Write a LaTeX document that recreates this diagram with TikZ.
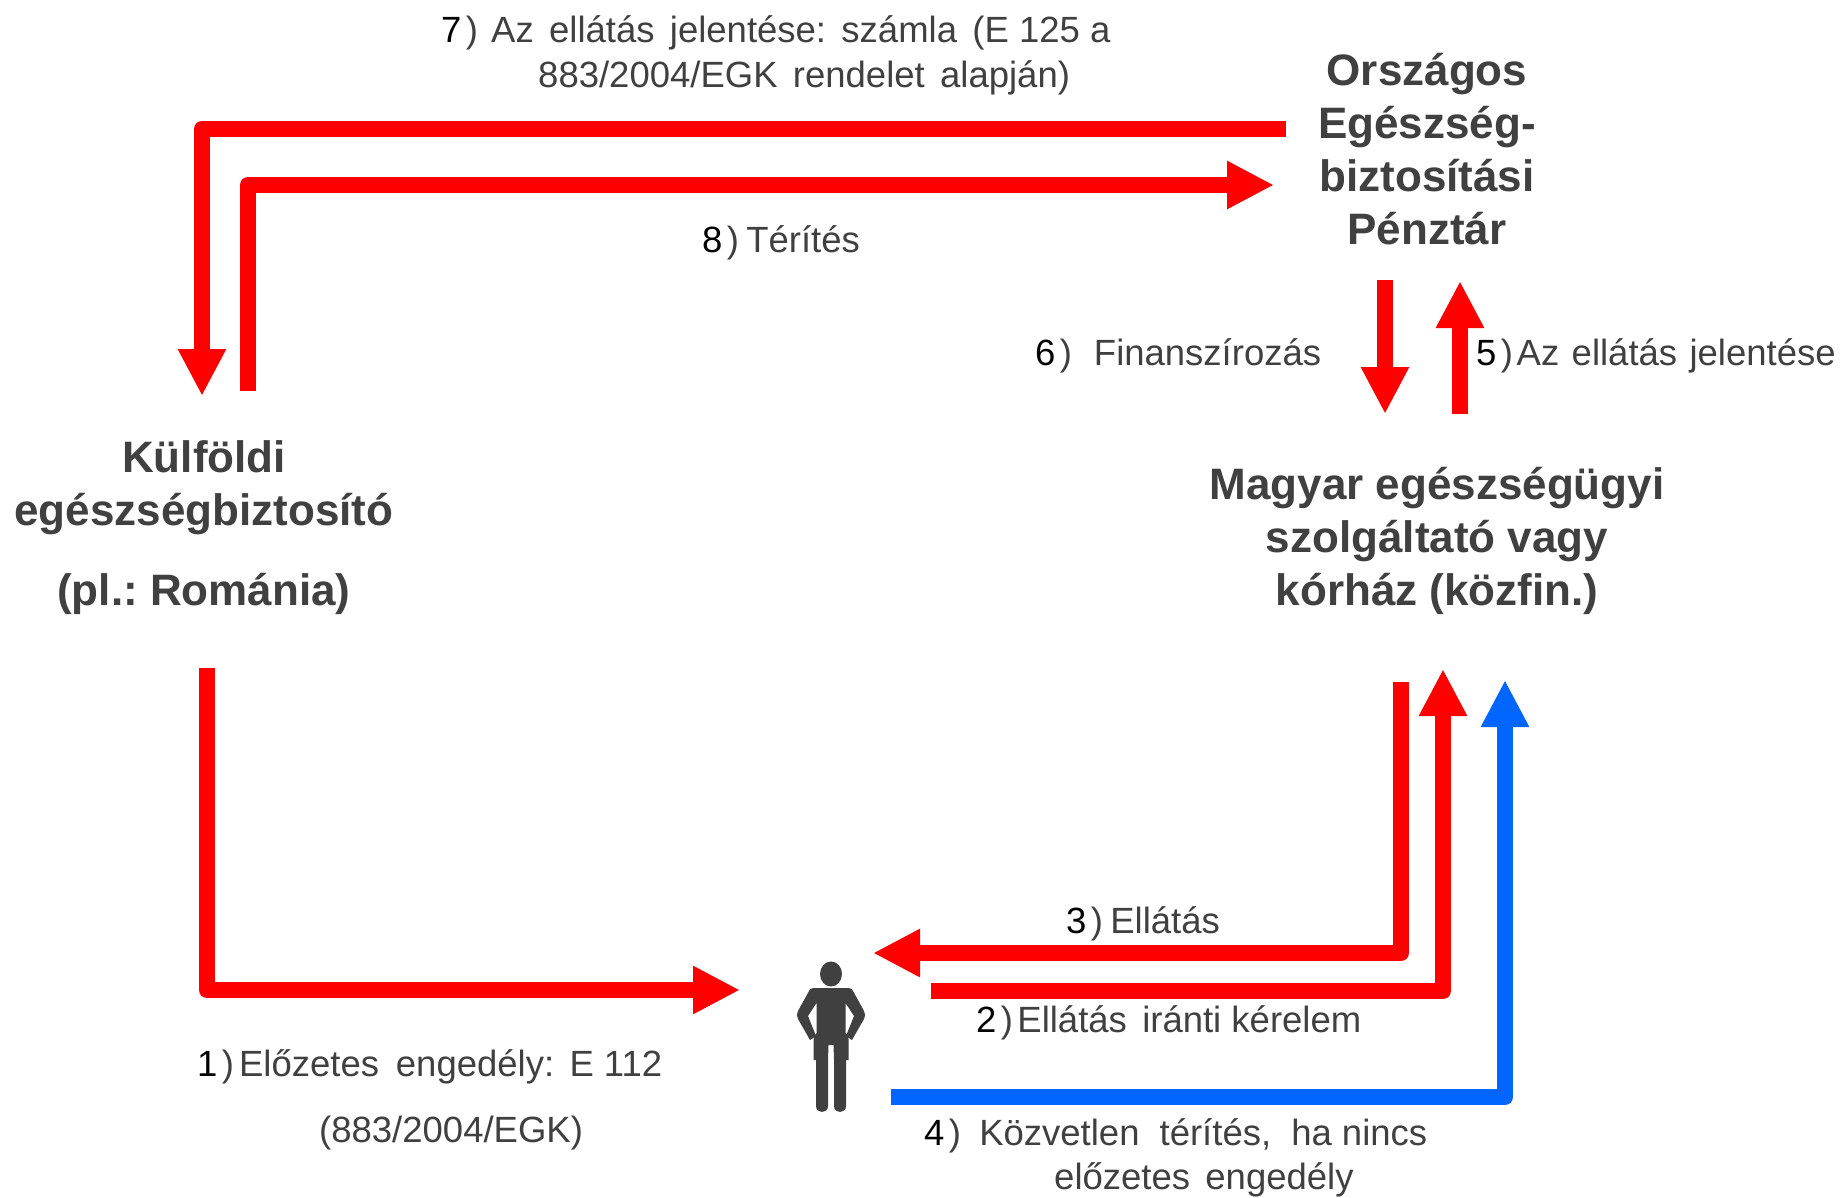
\documentclass[tikz,border=0pt]{standalone}
\usepackage{fontspec}
\setmainfont{Liberation Sans}
\usetikzlibrary{arrows.meta}
\definecolor{txt}{HTML}{404040}
\definecolor{flowred}{HTML}{FF0000}
\definecolor{flowblue}{HTML}{0066FF}
\newcommand{\wg}{\hspace{0.42em}}
\newcommand{\nm}[2]{{\color{black}#1}\hspace{0.12em}{\color{txt})}\hspace{#2}}
\tikzset{
  title/.style={font=\frenchspacing\bfseries\fontsize{44}{53}\selectfont,text=txt,align=center,anchor=center,inner sep=0pt},
  lab/.style={font=\fontsize{36.5}{45}\selectfont,text=txt,anchor=west,inner sep=0pt},
  flow/.style={draw=flowred,line width=16pt,line join=round,
    -{Triangle[length=47pt,width=45pt]}},
  bflow/.style={flow,draw=flowblue},
  figure/.style={fill=txt,draw=none}
}
\begin{document}
\begin{tikzpicture}[x=1pt,y=-1pt]
\useasboundingbox[fill=white] (0,0) rectangle (1841,1197);
% institutions
\node[title] (oep) at (1427,149) {Országos\\Egészség-\\biztosítási\\Pénztár};
\node[title] (mag) at (1437,541) {Magyar egészségügyi\\szolgáltató vagy\\kórház (közfin.)};
\node[title] (kulf) at (204,488) {Külföldi\\egészségbiztosító};
\node[title] (rom) at (204,594) {(pl.: Románia)};
% person
\coordinate (person) at (831,1045);
\begin{scope}[shift={(person)}]
  \fill[figure] (0,-71) ellipse (11 and 12.5);
  \fill[figure] (-17,-57) -- (17,-57) .. controls (20,-57) and (21,-56) .. (22,-54) -- (33,-34)
    .. controls (34.5,-31) and (34.5,-29) .. (33,-26) -- (21,-5) -- (15,-9) -- (23,-29) -- (14.5,-42)
    -- (14.5,-12) -- (17.5,-6) -- (17.5,15) -- (15,15) -- (15,61)
    .. controls (15,69) and (3,69) .. (3,61) -- (3,15) -- (2.5,0) -- (-2.5,0) -- (-3,15)
    -- (-3,61) .. controls (-3,69) and (-15,69) .. (-15,61) -- (-15,15) -- (-17.5,15) -- (-17.5,-6)
    -- (-14.5,-12) -- (-14.5,-42) -- (-23,-29) -- (-15,-9) -- (-21,-5) -- (-33,-26)
    .. controls (-34.5,-29) and (-34.5,-31) .. (-33,-34) -- (-22,-54)
    .. controls (-21,-56) and (-20,-57) .. (-17,-57) -- cycle;
\end{scope}
% connector anchor points
\coordinate (a7s) at (1286,129); \coordinate (a7c) at (202,129); \coordinate (a7e) at (202,396);
\coordinate (a8s) at (248,391); \coordinate (a8c) at (248,185); \coordinate (a8e) at (1274,185);
\coordinate (a6s) at (1385,280); \coordinate (a6e) at (1385,414);
\coordinate (a5s) at (1460,414); \coordinate (a5e) at (1460,281);
\coordinate (a1s) at (207,668); \coordinate (a1c) at (207,990); \coordinate (a1e) at (740,990);
\coordinate (a3s) at (1401,682); \coordinate (a3c) at (1401,953); \coordinate (a3e) at (873,953);
\coordinate (a2s) at (931,991); \coordinate (a2c) at (1443,991); \coordinate (a2e) at (1443,669);
\coordinate (a4s) at (891,1097); \coordinate (a4c) at (1505,1097); \coordinate (a4e) at (1505,680);
% connectors
\draw[flow] (a7s) -- (a7c) -- (a7e);
\draw[flow] (a8s) -- (a8c) -- (a8e);
\draw[flow] (a6s) -- (a6e);
\draw[flow] (a5s) -- (a5e);
\draw[flow] (a1s) -- (a1c) -- (a1e);
\draw[flow] (a3s) -- (a3c) -- (a3e);
\draw[flow] (a2s) -- (a2c) -- (a2e);
\draw[bflow] (a4s) -- (a4c) -- (a4e);
% labels
\node[lab] (l7a) at (441,33) {\nm{7}{0.36em}Az\wg ellátás\wg jelentése:\wg számla\wg (E 125 a};
\node[lab] (l7b) at (538,78) {883/2004/EGK\wg rendelet\wg alapján)};
\node[lab] (l8) at (702,243) {\nm{8}{0.2em}Térítés};
\node[lab] (l6) at (1035,356) {\nm{6}{0.6em}Finanszírozás};
\node[lab] (l5) at (1476,356) {\nm{5}{0.1em}Az\hspace{0.34em}ellátás\hspace{0.34em}jelentése};
\node[lab] (l3) at (1066,924) {\nm{3}{0.2em}Ellátás};
\node[lab] (l2) at (976,1023) {\nm{2}{0.12em}Ellátás\wg iránti kérelem};
\node[lab] (l4a) at (924,1136) {\nm{4}{0.5em}Közvetlen\hspace{0.55em}térítés,\hspace{0.55em}ha nincs};
\node[lab] (l4b) at (1054,1180) {előzetes\wg engedély};
\node[lab] (l1a) at (197,1067) {\nm{1}{0.14em}Előzetes\hspace{0.46em}engedély:\wg E 112};
\node[lab] (l1b) at (319,1133) {(883/2004/EGK)};
\end{tikzpicture}
\end{document}
